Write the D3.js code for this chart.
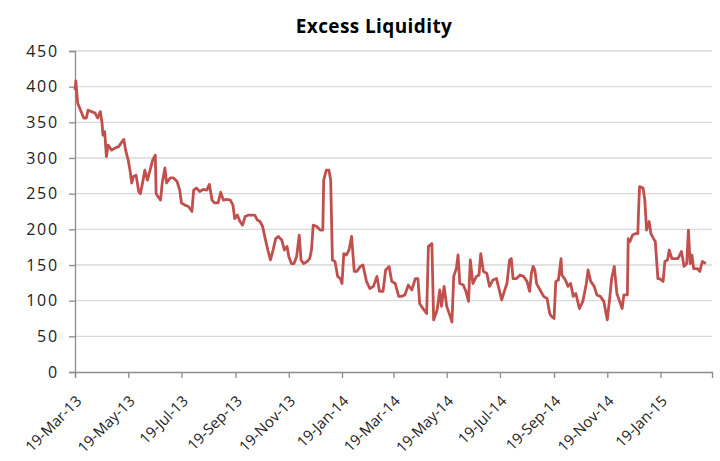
<!DOCTYPE html>
<html>
<head>
<meta charset="utf-8">
<script src="https://cdn.jsdelivr.net/npm/d3@7"></script>
<style>
  html, body { margin: 0; padding: 0; background: #fff; }
  svg { display: block; }
  text { font-family: "Open Sans", "Noto Sans", sans-serif; }
</style>
</head>
<body>
<svg id="chart" width="720" height="461"></svg>
<script>
const title = "Excess Liquidity";
const yTicks = [0, 50, 100, 150, 200, 250, 300, 350, 400, 450];
const xTickLabels = ["19-Mar-13","19-May-13","19-Jul-13","19-Sep-13","19-Nov-13","19-Jan-14",
  "19-Mar-14","19-May-14","19-Jul-14","19-Sep-14","19-Nov-14","19-Jan-15"];
const xDomain = ["2013-03-19", "2015-03-19"];

const dates = [
  "2013-03-19","2013-03-20","2013-03-22","2013-03-25","2013-03-29","2013-04-01","2013-04-03","2013-04-07",
  "2013-04-11","2013-04-14","2013-04-17","2013-04-19","2013-04-20","2013-04-22","2013-04-24","2013-04-26",
  "2013-04-30","2013-05-04","2013-05-08","2013-05-12","2013-05-14","2013-05-16","2013-05-19","2013-05-21",
  "2013-05-23","2013-05-25","2013-05-28","2013-05-31","2013-06-02","2013-06-05","2013-06-07","2013-06-10",
  "2013-06-13","2013-06-16","2013-06-19","2013-06-20","2013-06-22","2013-06-25","2013-06-27","2013-06-30",
  "2013-07-02","2013-07-06","2013-07-10","2013-07-14","2013-07-17","2013-07-19","2013-07-23","2013-07-27",
  "2013-07-31","2013-08-02","2013-08-05","2013-08-09","2013-08-13","2013-08-17","2013-08-20","2013-08-23",
  "2013-08-26","2013-08-30","2013-09-02","2013-09-05","2013-09-09","2013-09-13","2013-09-16","2013-09-18",
  "2013-09-21","2013-09-24","2013-09-27","2013-09-30","2013-10-04","2013-10-07","2013-10-11","2013-10-14",
  "2013-10-17","2013-10-20","2013-10-23","2013-10-26","2013-10-29","2013-11-01","2013-11-04","2013-11-07",
  "2013-11-11","2013-11-14","2013-11-17","2013-11-19","2013-11-22","2013-11-25","2013-11-28","2013-12-01",
  "2013-12-03","2013-12-06","2013-12-10","2013-12-13","2013-12-15","2013-12-17","2013-12-21","2013-12-25",
  "2013-12-28","2013-12-29","2014-01-01","2014-01-04","2014-01-06","2014-01-08","2014-01-11","2014-01-14",
  "2014-01-17","2014-01-19","2014-01-21","2014-01-24","2014-01-27","2014-01-30","2014-02-02","2014-02-05",
  "2014-02-09","2014-02-12","2014-02-16","2014-02-20","2014-02-24","2014-02-28","2014-03-03","2014-03-07",
  "2014-03-10","2014-03-14","2014-03-17","2014-03-21","2014-03-25","2014-03-28","2014-04-01","2014-04-05",
  "2014-04-09","2014-04-13","2014-04-16","2014-04-18","2014-04-20","2014-04-26","2014-04-28","2014-05-02",
  "2014-05-04","2014-05-08","2014-05-11","2014-05-13","2014-05-16","2014-05-19","2014-05-23","2014-05-25",
  "2014-05-27","2014-05-30","2014-06-01","2014-06-03","2014-06-07","2014-06-10","2014-06-13","2014-06-15",
  "2014-06-18","2014-06-22","2014-06-25","2014-06-27","2014-06-30","2014-07-04","2014-07-07","2014-07-11",
  "2014-07-15","2014-07-21","2014-07-24","2014-07-27","2014-07-30","2014-08-01","2014-08-03","2014-08-07",
  "2014-08-11","2014-08-15","2014-08-19","2014-08-22","2014-08-24","2014-08-26","2014-08-28","2014-08-30",
  "2014-09-03","2014-09-07","2014-09-11","2014-09-14","2014-09-16","2014-09-19","2014-09-21","2014-09-24",
  "2014-09-27","2014-09-28","2014-10-02","2014-10-05","2014-10-08","2014-10-11","2014-10-14","2014-10-18",
  "2014-10-22","2014-10-26","2014-10-28","2014-10-31","2014-11-04","2014-11-07","2014-11-11","2014-11-15",
  "2014-11-19","2014-11-22","2014-11-24","2014-11-27","2014-11-30","2014-12-04","2014-12-06","2014-12-08",
  "2014-12-12","2014-12-13","2014-12-15","2014-12-18","2014-12-21","2014-12-24","2014-12-25","2014-12-26",
  "2014-12-30","2015-01-01","2015-01-03","2015-01-06","2015-01-08","2015-01-11","2015-01-13","2015-01-16",
  "2015-01-18","2015-01-22","2015-01-24","2015-01-27","2015-01-29","2015-02-01","2015-02-05","2015-02-08",
  "2015-02-12","2015-02-15","2015-02-18","2015-02-20","2015-02-22","2015-02-24","2015-02-26","2015-03-02",
  "2015-03-05","2015-03-08","2015-03-12"
];
const values = [
  395,408,377,368,356,356,367,365,
  363,356,365,349,332,337,302,318,
  311,314,316,323,326,311,297,283,
  265,274,276,253,250,269,283,269,
  283,297,304,250,246,241,265,286,
  265,272,272,267,255,237,234,232,
  225,255,258,253,256,255,263,241,
  237,237,252,241,242,241,234,215,
  220,211,206,218,220,220,220,213,
  211,204,187,171,157,171,187,190,
  185,171,176,162,152,152,162,192,
  157,152,155,159,171,206,204,199,
  199,269,283,283,269,157,155,134,
  131,124,166,164,171,190,141,141,
  148,150,127,117,120,134,113,113,
  143,148,127,124,106,106,108,122,
  115,131,131,96,92,82,176,180,
  73,87,115,92,120,92,78,70,
  134,145,164,124,122,113,99,157,
  124,134,136,166,141,138,120,129,
  131,101,113,124,157,159,131,131,
  136,134,127,113,138,148,143,124,
  115,106,103,82,78,75,127,129,
  159,136,129,120,124,106,110,89,
  99,124,143,127,120,108,106,99,
  73,106,131,148,110,96,89,108,
  108,187,183,192,194,194,232,260,
  258,241,199,211,194,187,183,131,
  131,127,155,157,171,159,159,159,
  169,148,152,199,152,164,145,145,
  141,155,152
];

const parse = d3.timeParse("%Y-%m-%d");
const data = dates.map((d, i) => ({ date: parse(d), value: values[i] }));

const margin = { left: 75, right: 8, top: 51, bottom: 89 };
const W = 720, H = 461;
const svg = d3.select("#chart");

const x = d3.scaleTime()
  .domain(xDomain.map(parse))
  .range([margin.left, W - margin.right]);
const y = d3.scaleLinear()
  .domain([0, 450])
  .range([H - margin.bottom, margin.top]);

// title
svg.append("text")
  .attr("x", 374).attr("y", 33)
  .attr("text-anchor", "middle")
  .attr("font-size", 19).attr("font-weight", "bold")
  .attr("letter-spacing", 0.4)
  .attr("fill", "#000")
  .text(title);

// gridlines
svg.append("g").selectAll("line")
  .data(yTicks.filter(t => t > 0))
  .join("line")
  .attr("x1", margin.left).attr("x2", W - margin.right)
  .attr("y1", d => y(d)).attr("y2", d => y(d))
  .attr("stroke", "#d9d9d9").attr("stroke-width", 1.3);

// y axis
const yAxis = svg.append("g")
  .attr("transform", `translate(${margin.left},0)`)
  .call(d3.axisLeft(y).tickValues(yTicks).tickSize(6).tickPadding(10));
yAxis.select(".domain").attr("stroke", "#8c8c8c").attr("stroke-width", 1.3);
yAxis.selectAll(".tick line").attr("stroke", "#8c8c8c").attr("stroke-width", 1.3);
yAxis.selectAll("text").attr("font-size", 16).attr("fill", "#222")
  .attr("letter-spacing", 1.8)
  .style("font-family", "'Open Sans', sans-serif");

// x axis
const tickDates = xTickLabels.map(d3.timeParse("%d-%b-%y"));
const xAxis = svg.append("g")
  .attr("transform", `translate(0,${y(0)})`)
  .call(d3.axisBottom(x).tickValues(tickDates).tickSize(6).tickFormat(d3.timeFormat("%d-%b-%y")));
xAxis.select(".domain").attr("stroke", "#8c8c8c").attr("stroke-width", 1.3);
xAxis.selectAll(".tick line").attr("stroke", "#8c8c8c").attr("stroke-width", 1.3);
xAxis.selectAll("text")
  .attr("font-size", 15).attr("fill", "#222")
  .attr("text-anchor", "end")
  .attr("dy", 0).attr("y", 0)
  .attr("transform", "translate(7,30) rotate(-45)");

// line
svg.append("path")
  .datum(data)
  .attr("fill", "none")
  .attr("stroke", "#C0504D")
  .attr("stroke-width", 2.8)
  .attr("stroke-linejoin", "round")
  .attr("d", d3.line().x(d => x(d.date)).y(d => y(d.value)));
</script>
</body>
</html>
